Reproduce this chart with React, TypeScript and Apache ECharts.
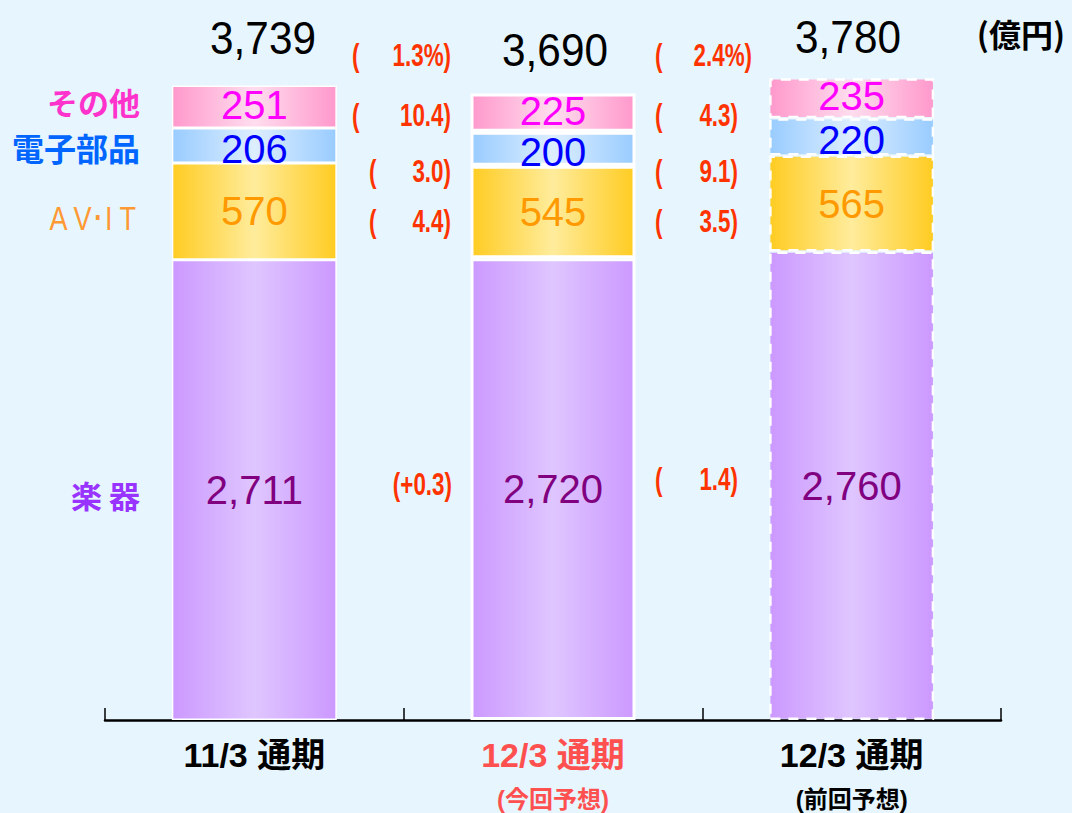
import React, { useEffect, useRef } from "react";
import * as echarts from "echarts";

// ---- Data ----
const categories = ["11/3 通期", "12/3 通期", "12/3 通期"];
const categoryNotes = ["", "(今回予想)", "(前回予想)"];
const instruments = [2711, 2720, 2760];
const avIt = [570, 545, 565];
const electronic = [206, 200, 220];
const others = [251, 225, 235];
const totals = [3739, 3690, 3780];
const segmentNames = ["その他", "電子部品", "A V･I T", "楽 器"];
// changes: total, others, electronic, AV-IT, instruments
const changeVsPrevYear = ["1.3%", "10.4", "3.0", "4.4", "+0.3"];
const changeVsPrevForecast = ["2.4%", "4.3", "9.1", "3.5", "1.4"];
const unitLabel = "(億円)";

// ---- Layout (pixel positions of annotations) ----
const totalPos = [
  { x: 263, y: 38 },
  { x: 555, y: 50 },
  { x: 848, y: 37 },
];
const changeRowsY1 = [55, 115, 171, 221, 484];
const changeRowsY2 = [55, 115, 171, 221, 479];
const changeParenX1 = [352, 352, 369, 369, 378];
const changeRightX1 = [451, 451, 451, 451, 452];
const changeParenX2 = [655, 655, 655, 655, 655];
const changeRightX2 = [752, 738, 738, 738, 738];
const segLabelY = [101, 147, 219, 494];
const segLabelColors = ["#FF33CC", "#0066FF", "#FF9933", "#9933FF"];

const SANS = "'Liberation Sans', Arial, sans-serif";
const CJK = "'Noto Sans CJK JP', sans-serif";
const MIXED = "'Liberation Sans', 'Noto Sans CJK JP', sans-serif";

function grad(edge: string, mid: string) {
  return {
    type: "linear",
    x: 0,
    y: 0,
    x2: 1,
    y2: 0,
    colorStops: [
      { offset: 0, color: edge },
      { offset: 0.5, color: mid },
      { offset: 1, color: edge },
    ],
  };
}

const borderStyles = [
  { borderColor: "#FFFFFF", borderWidth: 1.5, borderType: "solid" },
  { borderColor: "#FFFFFF", borderWidth: 3, borderType: "solid" },
  { borderColor: "#FFFFFF", borderWidth: 2.5, borderType: [10, 8] },
];

function items(values: number[]) {
  return values.map((v, i) => ({ value: v, itemStyle: { ...borderStyles[i] } }));
}

export default function App() {
  const ref = useRef<HTMLDivElement>(null);

  useEffect(() => {
    if (!ref.current) return;
    const chart = echarts.init(ref.current, undefined, { renderer: "svg" });

    const fmt = (n: number) => n.toLocaleString("en-US");

    const graphics: any[] = [];
    totals.forEach((t, i) => {
      graphics.push({
        type: "text",
        x: totalPos[i].x,
        y: totalPos[i].y,
        scaleX: 0.92,
        style: {
          text: fmt(t),
          fill: "#000000",
          fontSize: 46,
          fontFamily: SANS,
          align: "center",
          verticalAlign: "middle",
          textAlign: "center",
          textVerticalAlign: "middle",
        },
      });
    });
    graphics.push({
      type: "text",
      x: 1065,
      y: 33,
      style: {
        text: unitLabel,
        fill: "#000000",
        fontSize: 32,
        fontWeight: "bold",
        fontFamily: CJK,
        align: "right",
        verticalAlign: "middle",
        textAlign: "right",
        textVerticalAlign: "middle",
      },
    });
    segmentNames.forEach((name, i) => {
      const isAv = i === 2;
      graphics.push({
        type: "text",
        x: isAv ? 136 : 140,
        y: segLabelY[i],
        scaleX: isAv ? 0.82 : 1,
        style: {
          text: name,
          fill: segLabelColors[i],
          fontSize: isAv ? 33 : i === 1 ? 32 : 31,
          fontWeight: isAv ? "normal" : "bold",
          fontFamily: isAv ? SANS : CJK,
          align: "right",
          verticalAlign: "middle",
          textAlign: "right",
          textVerticalAlign: "middle",
        },
      });
    });
    const addChanges = (vals: string[], ys: number[], px: number[], rx: number[]) => {
      vals.forEach((v, i) => {
        const base = {
          fill: "#FF3300",
          fontSize: 32,
          fontWeight: "bold",
          fontFamily: SANS,
          verticalAlign: "middle",
          textVerticalAlign: "middle",
        };
        if (v.startsWith("+")) {
          graphics.push({
            type: "text",
            x: rx[i],
            y: ys[i],
            scaleX: 0.7,
            style: { ...base, text: "(" + v + ")", align: "right", textAlign: "right" },
          });
        } else {
          graphics.push({
            type: "text",
            x: px[i],
            y: ys[i],
            scaleX: 0.7,
            style: { ...base, text: "(", align: "left", textAlign: "left" },
          });
          graphics.push({
            type: "text",
            x: rx[i],
            y: ys[i],
            scaleX: 0.7,
            style: { ...base, text: v + ")", align: "right", textAlign: "right" },
          });
        }
      });
    };
    addChanges(changeVsPrevYear, changeRowsY1, changeParenX1, changeRightX1);
    addChanges(changeVsPrevForecast, changeRowsY2, changeParenX2, changeRightX2);

    const seriesDefs = [
      { name: "楽器", data: instruments, color: grad("#CC99FF", "#DFC6FF"), label: "#800080", offset: [0, 0] },
      { name: "AV・IT", data: avIt, color: grad("#FFCC22", "#FFEC9C"), label: "#FF9900", offset: [0, 0] },
      { name: "電子部品", data: electronic, color: grad("#99CCFF", "#DDEEFF"), label: "#0000FF", offset: [0, 3] },
      { name: "その他", data: others, color: grad("#FF99CC", "#FFDDEE"), label: "#FF00FF", offset: [0, -2] },
    ];

    chart.setOption({
      animation: false,
      backgroundColor: "#E6F5FE",
      grid: { left: 105, right: 71, top: 41, bottom: 93 },
      xAxis: {
        type: "category",
        data: categories,
        boundaryGap: true,
        axisLine: { show: true, lineStyle: { color: "#000000", width: 2.5 } },
        axisTick: { show: true, inside: true, length: 12, lineStyle: { color: "#000000", width: 1.5 } },
        axisLabel: {
          margin: 17,
          interval: 0,
          verticalAlign: "top",
          formatter: (value: string, index: number) => {
            const main = index === 1 ? "ar" : "a";
            const sub = index === 1 ? "br" : "b";
            const note = categoryNotes[index];
            return `{${main}|${value}}` + (note ? `\n{${sub}|${note}}` : "");
          },
          rich: {
            a: { fontSize: 34, fontWeight: "bold", fontFamily: MIXED, color: "#000000", lineHeight: 36 },
            ar: { fontSize: 34, fontWeight: "bold", fontFamily: MIXED, color: "#FF5050", lineHeight: 36 },
            b: { fontSize: 24, fontWeight: "bold", fontFamily: MIXED, color: "#000000", lineHeight: 52 },
            br: { fontSize: 24, fontWeight: "bold", fontFamily: MIXED, color: "#FF5050", lineHeight: 52 },
          },
        },
      },
      yAxis: {
        type: "value",
        min: 0,
        max: 4000,
        show: false,
        splitLine: { show: false },
      },
      graphic: graphics,
      series: seriesDefs.map((s) => ({
        name: s.name,
        type: "bar",
        stack: "total",
        barWidth: 165,
        data: items(s.data),
        itemStyle: { color: s.color },
        label: {
          show: true,
          position: "inside",
          offset: s.offset,
          fontSize: 40,
          lineHeight: 30,
          fontFamily: SANS,
          color: s.label,
          formatter: (p: any) => fmt(p.value),
        },
      })),
    });

    return () => chart.dispose();
  }, []);

  return (
    <div
      ref={ref}
      style={{ position: "fixed", left: 0, top: 0, width: 1072, height: 813 }}
    />
  );
}
